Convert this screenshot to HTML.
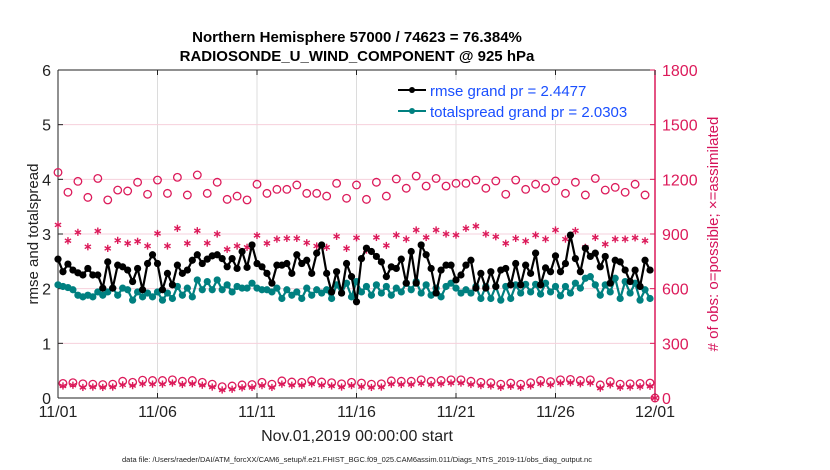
<!DOCTYPE html>
<html><head><meta charset="utf-8"><style>
body{margin:0;background:#fff;}
svg{display:block;font-family:"Liberation Sans",sans-serif;}
</style></head><body>
<svg id="chart" width="830" height="470" viewBox="0 0 830 470">
<g id="grid"></g>
<g id="axes"></g>
<g id="marks"></g>
<text x="357" y="42" text-anchor="middle" font-size="15" font-weight="bold">Northern Hemisphere 57000 / 74623 = 76.384%</text>
<text x="357" y="61" text-anchor="middle" font-size="15" font-weight="bold">RADIOSONDE_U_WIND_COMPONENT @ 925 hPa</text>
<text transform="translate(38,234) rotate(-90)" text-anchor="middle" font-size="15" fill="#222">rmse and totalspread</text>
<text transform="translate(718,234) rotate(-90)" text-anchor="middle" font-size="15" fill="#d6135a"># of obs: o=possible; ×=assimilated</text>
<text x="357" y="441" text-anchor="middle" font-size="16" fill="#222">Nov.01,2019 00:00:00 start</text>
<text x="357" y="462" text-anchor="middle" font-size="7.5" fill="#222">data file: /Users/raeder/DAI/ATM_forcXX/CAM6_setup/f.e21.FHIST_BGC.f09_025.CAM6assim.011/Diags_NTrS_2019-11/obs_diag_output.nc</text>
<g>
<rect x="394" y="80" width="258" height="40" fill="#fff"/>
<g>
<line x1="398" y1="90" x2="426" y2="90" stroke="#000" stroke-width="2"/><circle cx="412" cy="90" r="3" fill="#000"/>
<text x="430" y="96" font-size="15" fill="#1a4fff">rmse grand pr = 2.4477</text></g>
<g>
<line x1="398" y1="111" x2="426" y2="111" stroke="#008080" stroke-width="2"/><circle cx="412" cy="111" r="3" fill="#008080"/>
<text x="430" y="117" font-size="15" fill="#1a4fff">totalspread grand pr = 2.0303</text></g>
</g>
</svg>
<script>
const dayTicks=[0,5,10,15,20,25,30];
const dayTickLabels=["11/01","11/06","11/11","11/16","11/21","11/26","12/01"];
const leftTicks=[0,1,2,3,4,5,6];
const rightTicks=[0,300,600,900,1200,1500,1800];
const rmse=[2.54,2.31,2.45,2.34,2.29,2.25,2.37,2.25,2.25,2.01,2.49,2.01,2.43,2.40,2.34,2.13,2.37,1.98,2.46,2.62,2.46,1.98,2.28,2.07,2.43,2.28,2.34,2.52,2.62,2.46,2.54,
2.60,2.62,2.55,2.40,2.55,2.37,2.68,2.39,2.80,2.46,2.40,2.28,2.10,2.43,2.43,2.46,2.28,2.62,2.46,2.52,2.28,2.65,2.80,2.28,1.94,2.31,1.92,2.46,2.22,1.76,
2.55,2.74,2.68,2.59,2.49,2.22,2.40,2.37,2.54,2.10,2.68,2.10,2.80,2.62,2.37,1.92,2.34,2.43,2.43,2.16,2.25,2.43,2.52,2.01,2.28,2.01,2.31,2.04,2.34,
2.37,2.07,2.46,2.07,2.43,2.28,2.65,2.07,2.38,2.31,2.60,2.31,2.46,2.98,2.55,2.31,2.74,2.59,2.65,2.40,2.59,2.10,2.52,2.49,2.34,2.13,2.34,2.04,2.52,2.34];
const spread=[2.07,2.04,2.02,1.98,1.88,1.85,1.88,1.85,1.94,1.88,1.94,2.01,1.88,2.01,1.98,1.79,1.94,1.85,1.92,1.85,1.94,1.79,1.92,1.82,2.04,1.88,2.01,1.85,2.16,1.98,2.13,
1.98,2.16,1.98,2.07,1.94,2.04,2.01,2.01,2.10,2.01,1.98,1.98,1.94,2.01,1.82,1.98,1.88,1.94,1.82,2.01,1.88,1.98,1.92,1.98,1.82,2.07,1.92,2.10,1.85,2.13,
1.94,2.04,1.88,2.07,1.92,2.04,1.88,2.01,1.94,2.10,1.98,2.13,1.92,2.07,1.88,2.01,1.85,2.04,2.10,2.01,1.92,1.98,1.92,2.04,1.82,2.04,1.82,2.04,1.79,
2.04,1.82,2.07,1.92,2.08,1.94,2.08,1.90,2.10,1.94,2.04,1.87,2.04,1.92,2.10,2.01,2.19,2.22,2.07,1.88,2.07,1.94,2.19,1.82,2.13,1.92,2.10,1.79,1.98,1.82];
const possibleTop=[1238,1129,1189,1101,1205,1087,1141,1136,1184,1118,1196,1123,1211,1114,1224,1123,1184,1090,1108,1087,1173,1123,1145,1145,1169,1123,1123,1108,1178,1096,1169,
1090,1184,1108,1202,1151,1218,1163,1205,1163,1178,1178,1196,1151,1191,1118,1196,1145,1173,1151,1191,1123,1184,1114,1205,1141,1156,1129,1173,1114,0];
const assimTop=[950,863,909,830,916,821,865,849,860,834,903,834,931,849,918,850,900,816,834,827,892,849,872,876,876,852,834,827,887,821,879,
812,881,837,894,872,922,881,922,900,894,931,943,900,885,849,876,861,894,872,922,872,918,827,881,844,872,872,879,863,0];
const possibleBot=[80,84,78,76,74,76,92,86,98,96,96,100,92,96,86,76,62,66,72,74,86,76,94,88,86,96,88,84,78,86,82,76,78,94,92,92,100,92,96,100,100,92,86,84,76,82,76,84,96,90,100,102,96,100,72,90,76,78,80,82];
const assimBot=[66,70,58,60,58,60,72,68,78,76,76,82,74,78,70,60,44,48,56,58,68,58,76,70,70,78,70,66,60,68,62,58,60,76,74,74,80,74,78,82,82,74,68,66,58,64,58,66,78,72,82,84,78,82,54,72,58,60,62,64];

const X0=58,X1=655,Y0=398,Y1=70;
const xs=d=>X0+(X1-X0)*d/30;
const yl=v=>Y0-(Y0-Y1)*v/6;
const yr=v=>Y0-(Y0-Y1)*v/1800;
const NS="http://www.w3.org/2000/svg";
function mk(tag,attrs,parent){const e=document.createElementNS(NS,tag);for(const k in attrs)e.setAttribute(k,attrs[k]);parent.appendChild(e);return e;}
const grid=document.getElementById('grid'),axes=document.getElementById('axes'),marks=document.getElementById('marks');
const RED="#dc1a5a";
dayTicks.forEach(d=>{const l=mk('line',{x1:xs(d),x2:xs(d),y1:Y1,y2:Y0,stroke:'#dcdcdc','stroke-width':1},grid);

});
rightTicks.forEach(v=>{const l=mk('line',{x1:X0,x2:X1,y1:yr(v),y2:yr(v),stroke:'#f6d0dc','stroke-width':1},grid);

});
mk('line',{x1:X0,x2:X1,y1:Y1,y2:Y1,stroke:'#222','stroke-width':1},axes);
mk('line',{x1:X0,x2:X1,y1:Y0,y2:Y0,stroke:'#222','stroke-width':1},axes);
mk('line',{x1:X0,x2:X0,y1:Y1,y2:Y0,stroke:'#222','stroke-width':1},axes);
mk('line',{x1:X1,x2:X1,y1:Y1,y2:Y0,stroke:RED,'stroke-width':1.5},axes);
dayTicks.forEach((d,i)=>{mk('line',{x1:xs(d),x2:xs(d),y1:Y0,y2:Y0-5,stroke:'#222'},axes);mk('line',{x1:xs(d),x2:xs(d),y1:Y1,y2:Y1+5,stroke:'#222'},axes);
const t=mk('text',{x:xs(d),y:Y0+19,'text-anchor':'middle','font-size':16,fill:'#222'},axes);t.textContent=dayTickLabels[i];

});
leftTicks.forEach(v=>{mk('line',{x1:X0,x2:X0+5,y1:yl(v),y2:yl(v),stroke:'#222'},axes);
const t=mk('text',{x:X0-7,y:yl(v)+6,'text-anchor':'end','font-size':16,fill:'#222'},axes);t.textContent=v;

});
rightTicks.forEach(v=>{mk('line',{x1:X1,x2:X1-5,y1:yr(v),y2:yr(v),stroke:RED},axes);
const t=mk('text',{x:X1+7,y:yr(v)+6,'text-anchor':'start','font-size':16,fill:RED},axes);t.textContent=v;

});
function star(cx,cy,g){const r=3.6;[0,60,120].forEach(a=>{const rad=a*Math.PI/180;mk('line',{x1:cx-r*Math.sin(rad),y1:cy-r*Math.cos(rad),x2:cx+r*Math.sin(rad),y2:cy+r*Math.cos(rad),stroke:RED,'stroke-width':1.4},g);});}
function circ(cx,cy,g){mk('circle',{cx:cx,cy:cy,r:3.8,fill:'none',stroke:RED,'stroke-width':1.3},g);}
const gObs=mk('g',{},marks);


possibleTop.forEach((v,i)=>circ(xs(i*0.5),yr(v),gObs));
assimTop.forEach((v,i)=>star(xs(i*0.5),yr(v),gObs));
possibleBot.forEach((v,i)=>circ(xs(i*0.5+0.25),yr(v),gObs));
assimBot.forEach((v,i)=>star(xs(i*0.5+0.25),yr(v),gObs));
function series(vals,color,name){const g=mk('g',{},marks);


const pts=vals.map((v,i)=>xs(i*0.25)+','+yl(v)).join(' ');
mk('polyline',{points:pts,fill:'none',stroke:color,'stroke-width':2.2,'stroke-linejoin':'round'},g);
vals.forEach((v,i)=>mk('circle',{cx:xs(i*0.25),cy:yl(v),r:3.6,fill:color},g));}
series(spread,'#008080','totalspread-series');
series(rmse,'#000','rmse-series');
</script>
</body></html>
